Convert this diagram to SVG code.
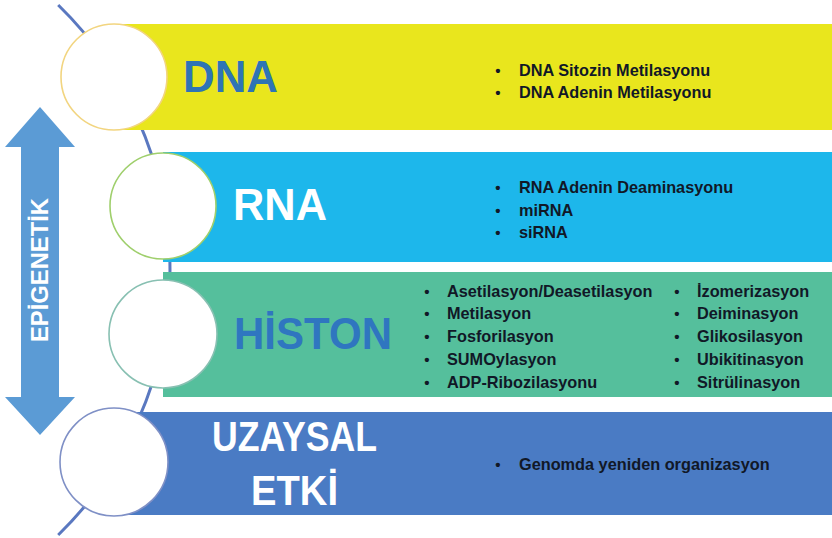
<svg xmlns="http://www.w3.org/2000/svg" width="832" height="538" viewBox="0 0 832 538">
  <style>
    .title { font-family: "Liberation Sans", Arial, sans-serif; font-weight: bold; }
    .item { font-family: "Liberation Sans", Arial, sans-serif; font-weight: bold; font-size: 16.3px; fill: #111827; }
    .bul { font-family: "Liberation Sans", Arial, sans-serif; font-weight: bold; font-size: 15px; fill: #111827; text-anchor: middle; }
    .circ { fill: #ffffff; stroke-width: 1.6; }
  </style>
  <rect width="832" height="538" fill="#ffffff"/>

  <g id="connectors">
    <path d="M 58.2 5 A 370 370 0 0 1 58.2 535" fill="none" stroke="#5a78c0" stroke-width="3"/>
  </g>

  <g id="arrow-epigenetik">
    <polygon points="40,107 75,147 59,147 59,397 75,397 40,435 5,397 21,397 21,147 5,147" fill="#5b9bd5"/>
    <text class="title" transform="translate(48,270) rotate(-90)" font-size="24" fill="#ffffff" text-anchor="middle" textLength="144" lengthAdjust="spacingAndGlyphs">EPİGENETİK</text>
  </g>

  <g id="node-dna">
    <rect x="114" y="24" width="718" height="106" fill="#e9e61d"/>
    <circle class="circ" cx="114" cy="77" r="53" stroke="#f2d580"/>
    <text class="title" x="183" y="92" font-size="45" fill="#2e74b5" textLength="95" lengthAdjust="spacingAndGlyphs">DNA</text>
    <text class="bul" x="498" y="76">•</text>
    <text class="item" x="519" y="76">DNA Sitozin Metilasyonu</text>
    <text class="bul" x="498" y="98">•</text>
    <text class="item" x="519" y="98">DNA Adenin Metilasyonu</text>
  </g>

  <g id="node-rna">
    <rect x="163" y="152" width="669" height="110" fill="#1db7eb"/>
    <circle class="circ" cx="163" cy="206" r="53" stroke="#9fcf6c"/>
    <text class="title" x="233" y="220" font-size="45" fill="#ffffff" textLength="94" lengthAdjust="spacingAndGlyphs">RNA</text>
    <text class="bul" x="498" y="193">•</text>
    <text class="item" x="519" y="193">RNA Adenin Deaminasyonu</text>
    <text class="bul" x="498" y="215.5">•</text>
    <text class="item" x="519" y="215.5">miRNA</text>
    <text class="bul" x="498" y="238">•</text>
    <text class="item" x="519" y="238">siRNA</text>
  </g>

  <g id="node-histon">
    <rect x="163" y="272" width="669" height="125" fill="#55bf9c"/>
    <circle class="circ" cx="163" cy="334" r="54" stroke="#88c0b2"/>
    <text class="title" x="234" y="349" font-size="45" fill="#2f76c0" textLength="158" lengthAdjust="spacingAndGlyphs">HİSTON</text>
    <text class="bul" x="427" y="296.5">•</text>
    <text class="item" x="447" y="296.5">Asetilasyon/Deasetilasyon</text>
    <text class="bul" x="427" y="319.3">•</text>
    <text class="item" x="447" y="319.3">Metilasyon</text>
    <text class="bul" x="427" y="342">•</text>
    <text class="item" x="447" y="342">Fosforilasyon</text>
    <text class="bul" x="427" y="364.8">•</text>
    <text class="item" x="447" y="364.8">SUMOylasyon</text>
    <text class="bul" x="427" y="387.5">•</text>
    <text class="item" x="447" y="387.5">ADP-Ribozilasyonu</text>
    <text class="bul" x="677" y="296.5">•</text>
    <text class="item" x="697" y="296.5">İzomerizasyon</text>
    <text class="bul" x="677" y="319.3">•</text>
    <text class="item" x="697" y="319.3">Deiminasyon</text>
    <text class="bul" x="677" y="342">•</text>
    <text class="item" x="697" y="342">Glikosilasyon</text>
    <text class="bul" x="677" y="364.8">•</text>
    <text class="item" x="697" y="364.8">Ubikitinasyon</text>
    <text class="bul" x="677" y="387.5">•</text>
    <text class="item" x="697" y="387.5">Sitrülinasyon</text>
  </g>

  <g id="node-uzaysal">
    <rect x="114" y="412" width="718" height="103" fill="#4a7bc4"/>
    <circle class="circ" cx="114" cy="462" r="54" stroke="#7f90c6"/>
    <text class="title" x="212" y="451" font-size="43" fill="#ffffff" textLength="165" lengthAdjust="spacingAndGlyphs">UZAYSAL</text>
    <text class="title" x="251" y="505" font-size="43" fill="#ffffff" textLength="87" lengthAdjust="spacingAndGlyphs">ETKİ</text>
    <text class="bul" x="498" y="470">•</text>
    <text class="item" x="519" y="470">Genomda yeniden organizasyon</text>
  </g>
</svg>
